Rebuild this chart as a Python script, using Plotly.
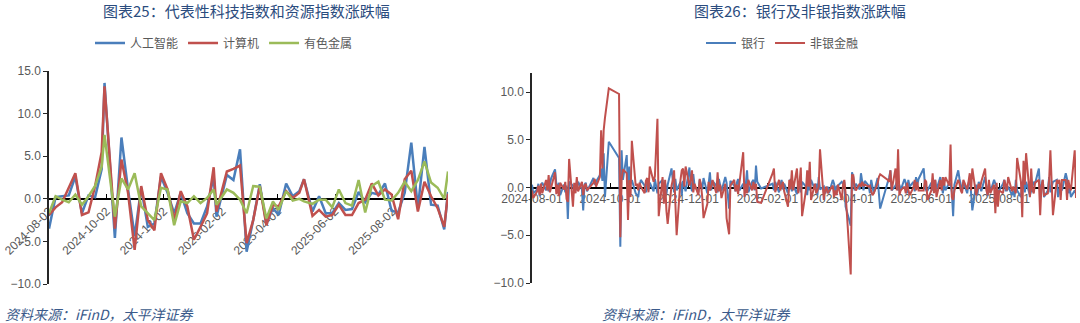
import pandas as pd
import plotly.graph_objects as go

# ---------------- Left chart: weekly change (%) ----------------
left_dates = [
    "2024-08-02", "2024-08-09", "2024-08-16", "2024-08-23", "2024-08-30",
    "2024-09-06", "2024-09-13", "2024-09-20", "2024-09-27", "2024-09-30",
    "2024-10-11", "2024-10-18", "2024-10-25", "2024-11-01", "2024-11-08",
    "2024-11-15", "2024-11-22", "2024-11-29", "2024-12-06", "2024-12-13",
    "2024-12-20", "2024-12-27", "2025-01-03", "2025-01-10", "2025-01-17",
    "2025-01-24", "2025-01-27", "2025-02-07", "2025-02-14", "2025-02-21",
    "2025-02-28", "2025-03-07", "2025-03-14", "2025-03-21", "2025-03-28",
    "2025-04-03", "2025-04-11", "2025-04-18", "2025-04-25", "2025-04-30",
    "2025-05-09", "2025-05-16", "2025-05-23", "2025-05-30", "2025-06-06",
    "2025-06-13", "2025-06-20", "2025-06-27", "2025-07-04", "2025-07-11",
    "2025-07-18", "2025-07-25", "2025-08-01", "2025-08-08", "2025-08-15",
    "2025-08-22", "2025-08-29", "2025-09-05", "2025-09-12", "2025-09-19",
    "2025-09-26", "2025-09-30",
]
ai = [-3.5, 0.2, 0.3, 0.4, 2.6, -1.7, 0.4, 0.2, 3.5, 13.6,
      -4.6, 7.2, 1.1, -4.4, 1.3, -3.3, -2.9, 2.6, 0.7, -1.7,
      0.7, -1.7, -2.9, -2.9, -0.9, 2.6, -2.1, 2.8, 2.2, 5.8,
      -6.2, -2.5, 1.7, -2.9, -1.1, -1.9, 1.8, 0.3, 0.9, 2.3,
      -1.5, 0.3, -1.7, -1.7, -0.5, -1.3, -1.2, 0.8, -0.4, 0.7,
      0.5, 1.8, -1.4, -1.6, 0.7, 6.6, -1.1, 6.1, -0.7, -0.8,
      -3.6, 0.8]
computer = [-1.9, -1.0, -0.4, 1.2, 3.0, -1.9, -1.6, 1.5, 5.5, 13.2,
            -3.5, 4.6, 0.7, -6.0, 1.5, -2.5, -3.7, 3.0, 1.1, -2.5,
            0.9, -0.9, -4.8, -3.3, -1.7, 3.7, -1.5, 3.2, 3.5, 3.9,
            -5.2, -2.5, 1.5, -3.1, -0.7, -0.9, 0.9, 0.1, 0.7, 2.3,
            -2.0, -1.3, -2.1, -1.9, -0.7, -1.9, -1.9, -0.5, -0.1, 1.8,
            0.4, 1.1, 0.5, -2.4, 2.3, 3.3, -1.5, 2.0, 0.3, -1.1,
            -3.3, 0.6]
metals = [-1.7, 0.3, -0.1, -0.4, 0.5, -0.7, 0.3, 1.5, 3.8, 7.5,
          -2.1, 2.4, 1.1, 3.0, -0.9, -1.7, -2.5, 1.3, 1.1, -3.1,
          -0.3, -0.5, 0.3, -0.5, 0.1, 1.1, -0.7, 1.1, 0.7, -0.1,
          -1.7, 1.5, 1.4, -2.3, -0.3, -1.3, 0.9, -0.2, 0.0, -0.3,
          -0.6, -0.1, -0.1, -1.0, 1.1, -0.5, -0.8, 2.2, -1.6, 1.5,
          2.0, -0.1, -0.2, 0.7, 2.0, 0.9, 2.2, 4.4, 1.9, 1.3,
          0.0, 3.2]
left_ticks = ["2024-08-02", "2024-10-02", "2024-12-02", "2025-02-02",
              "2025-04-02", "2025-06-02", "2025-08-02"]

# ---------------- Right chart: daily change (%) ----------------
# one row per month, 2024-08 ... 2025-09 (trading days)
bank = [
    [0.3, -0.6, -0.2, 0.4, -0.9, 0.2, 0.5, -0.3, 0.6, -0.4, 0.3, 1.0, 1.9, 0.4, -0.2, 0.5, -0.8, 0.3, -0.5, 0.2, -3.3, 0.6],
    [0.2, -0.5, 0.4, -0.3, 0.6, -0.2, -2.4, 0.3, 0.5, -0.4, 1.0, 0.3, 0.6, 1.3, 2.0, 0.7, 3.6, -1.0, 4.8],
    [3.1, -6.2, 3.9, 0.8, 3.4, -0.6, 2.2, 0.4, 0.8, -0.6, -0.8, -1.0, 0.1, 0.8, 0.2, -0.5, 0.4, -0.3],
    [0.5, -0.4, 0.9, 0.3, -0.6, 0.4, 0.8, -0.2, 0.5, -0.7, 0.3, 2.0, 0.4, -0.5, 0.9, -0.3, 0.6, -0.8, 0.7, 0.2, -0.4],
    [2.1, 0.3, -0.4, 1.4, 0.2, -0.5, 0.8, 0.3, -0.2, 1.0, -0.6, 0.4, 1.6, -0.3, 0.7, 0.2, -0.5, 0.9, 0.3, -0.4, 1.1, 0.5],
    [-2.2, 0.7, 0.2, -0.4, 0.5, 0.9, -0.3, 0.4, -0.2, 0.3, 1.8, -0.5, 0.6, 0.8, -0.3, 2.3, 0.6, -0.1],
    [0.4, -0.3, 0.6, -0.5, 0.3, 0.8, -0.2, 0.4, -0.6, 0.2, 0.9, -0.4, 0.3, -0.7, 0.5, 0.1, -0.5, 0.6],
    [0.1, -0.8, 0.6, -0.3, 0.8, -0.2, 0.4, -0.8, 1.1, -0.2, 0.1, -0.6, -0.3, 0.1, -0.6, 0.8, 0.4, -0.4, 0.1, 0.2, 0.6],
    [0.4, 0.6, -2.0, -4.0, 1.6, 1.1, -0.3, 0.4, -0.2, 1.5, 0.6, -0.3, 0.7, 0.2, -0.6, 0.8, 0.1, -0.6, 1.0, -0.9, -2.2],
    [0.6, 1.0, 1.8, -0.3, 0.2, 0.6, -0.3, 0.3, -0.3, 0.9, 0.5, -0.6, 0.8, 0.1, 0.6, -0.4, 1.1, 0.3, 0.9],
    [2.0, 0.3, -0.3, -0.3, 0.5, -0.3, 0.1, 0.8, -0.2, 1.1, 0.4, -0.6, 0.4, -0.3, 0.5, 0.3, -0.5, -3.0, 0.3, 1.8],
    [0.9, 0.3, -0.3, 0.6, -0.6, 0.4, 1.0, -0.5, -2.4, 0.3, -0.8, 0.6, 0.2, -0.4, 1.1, 0.3, -0.9, 0.5, -0.5, 0.8, 0.3, -0.2, -0.4],
    [-0.3, 0.4, 0.8, -0.3, -0.3, 0.1, -0.8, -0.3, -1.0, 0.8, -0.3, -1.0, 0.4, 0.8, -0.5, 0.6, -0.8, -0.3, 0.2, 0.6, 0.4],
    [2.0, -0.6, 0.1, 0.8, -1.0, -0.3, 1.1, -0.5, 0.1, 0.6, 0.8, -1.0, -0.3, 0.4, -0.3, 1.5, 0.9, -0.6, 0.1, -1.0, -0.3, -0.6],
]
nonbank = [
    [-0.3, -1.1, -0.4, 0.2, -0.8, 0.4, -0.6, 0.8, -0.3, 1.3, -0.5, 0.1, 1.6, -0.7, 0.3, -0.9, 0.5, -0.2, 0.6, -1.2, -1.5, 3.0],
    [-2.0, 0.5, -0.6, 1.1, -0.4, 0.6, -0.8, 0.2, 0.4, -0.3, 0.5, 0.9, 0.1, 1.1, 6.0, 2.0, 6.0, 7.3, 10.4],
    [9.8, -5.2, 0.8, 1.9, 1.5, -3.4, 0.8, -1.0, 4.9, 0.2, 0.4, -0.3, 0.5, 0.1, -0.6, 0.7, 1.0, -0.5],
    [2.2, 0.6, 1.2, 4.9, 7.2, -3.0, 1.1, -1.7, 0.8, -2.4, -3.8, 0.2, 0.8, 1.8, -1.3, -5.0, 0.8, 1.8, 2.0, 0.1, 2.2],
    [0.2, 0.8, 1.8, -0.5, 0.4, -0.8, 0.9, 0.3, -1.0, -3.2, -1.7, 0.6, -0.3, 0.1, 0.8, -0.6, 1.6, -0.4, 0.3, -1.1, 0.4, -3.2],
    [-4.9, 0.2, 0.8, -0.4, 0.3, -0.7, 0.5, 3.7, -1.0, 0.4, -0.6, 0.8, -0.3, 0.6, -0.2, 0.4, -1.5, -1.6],
    [1.5, 2.0, -0.5, 0.8, -0.3, 0.2, 0.6, -0.4, -2.0, 0.8, -0.2, 1.8, -0.3, 2.0, -0.6, 0.5, 2.1, -3.0],
    [-0.3, 1.8, 0.1, 2.7, -1.3, 0.4, -0.6, -0.3, 0.1, 4.0, -1.3, -0.3, 0.1, -0.6, -0.4, 0.2, -1.0, -0.3, -0.8, 0.3, -1.3],
    [0.3, 0.8, -0.6, -9.1, 1.3, 1.3, 0.1, -0.3, 0.4, 0.1, 0.6, 0.2, 0.3, 0.1, 0.2, -0.4, -0.8, -0.6, 0.4, 1.1, 1.4],
    [0.8, 0.6, 1.8, -0.3, 2.0, -0.3, 4.0, -0.8, -0.3, 0.1, -0.6, 0.5, -0.2, -0.8, 0.0, 0.8, -0.3, 0.6, -0.3],
    [-0.3, 0.8, 0.6, -1.3, -0.3, 1.5, -0.6, 0.8, -1.0, 0.8, -0.3, 1.1, 0.2, 1.1, 0.2, 4.5, -1.0, -1.3, -0.3, 0.8],
    [0.4, -0.3, -0.6, 0.8, -0.2, 0.6, 1.5, -0.3, 2.0, -0.8, -0.2, 0.4, -0.1, 0.6, 2.0, -0.3, -0.8, 0.8, -0.6, 0.3, -2.7, 0.5, -2.0],
    [-0.3, -0.6, 0.8, 0.3, -0.3, 1.1, -0.4, 0.1, -0.3, -0.6, 3.1, 0.6, -3.1, 2.8, 0.3, 3.6, -1.0, 2.0, -0.3, -0.6, 0.5],
    [0.8, -2.9, 0.1, 0.8, -0.8, -0.6, 0.8, 3.9, -0.3, -2.9, 0.8, 0.4, 0.8, -1.3, 0.8, 0.8, -1.3, 0.8, 0.1, -0.3, 3.9, -1.1],
]
right_ticks = ["2024-08-01", "2024-10-01", "2024-12-01", "2025-02-01",
               "2025-04-01", "2025-06-01", "2025-08-01"]

# market holidays (weekdays) in the period
holidays = (["2024-09-16", "2024-09-17"]
            + [str(d.date()) for d in pd.bdate_range("2024-10-01", "2024-10-07")]
            + ["2025-01-01"]
            + [str(d.date()) for d in pd.bdate_range("2025-01-28", "2025-02-04")]
            + ["2025-04-04", "2025-05-01", "2025-05-02", "2025-05-05", "2025-06-02"])
trading = [d for d in pd.bdate_range("2024-08-01", "2025-09-30") if str(d.date()) not in holidays]
bank_flat = [v for m in bank for v in m]
nonbank_flat = [v for m in nonbank for v in m]
if len(trading) != len(bank_flat) or len(trading) != len(nonbank_flat):
    raise SystemExit(f"length mismatch {len(trading)} {len(bank_flat)} {len(nonbank_flat)}")
right_dates = [d.strftime("%Y-%m-%d") for d in trading]

W, H = 1080, 323
def px(x):
    return x / W
def py(y):
    return 1 - y / H

BLUE, RED, GREEN = "#4A7EBB", "#C0504D", "#9BBB59"
GRAY = "#595959"
TICKFONT = dict(family="Liberation Sans, Arial, sans-serif", size=12, color=GRAY)
CJK = "Noto Sans CJK SC"

fig = go.Figure()
for name, vals, col in [("人工智能", ai, BLUE), ("计算机", computer, RED), ("有色金属", metals, GREEN)]:
    fig.add_trace(go.Scatter(x=left_dates, y=vals, mode="lines", name=name,
                             line=dict(color=col, width=2.5), xaxis="x", yaxis="y",
                             legend="legend"))
for name, vals, col in [("银行", bank_flat, BLUE), ("非银金融", nonbank_flat, RED)]:
    fig.add_trace(go.Scatter(x=right_dates, y=vals, mode="lines", name=name,
                             line=dict(color=col, width=2), xaxis="x2", yaxis="y2",
                             legend="legend2"))

# geometry (pixels)
L_x0, L_x1, L_top, L_bot, L_min, L_max = 49, 448, 71, 284, -10, 15
R_x0, R_x1, R_top, R_bot, R_min, R_max = 532, 1076, 73, 283, -10, 12
L_zero = L_top + (L_max - 0) / (L_max - L_min) * (L_bot - L_top)
R_zero = R_top + (R_max - 0) / (R_max - R_min) * (R_bot - R_top)

common_x = dict(type="date", showline=True, linecolor="black", linewidth=1.5,
                ticks="inside", ticklen=4, tickcolor="black", showgrid=False,
                zeroline=False, tickfont=TICKFONT, tickformat="%Y-%m-%d",
                anchor="free", layer="below traces", automargin=False)
common_y = dict(showline=True, linecolor="#262626", linewidth=1.5, ticks="outside",
                ticklen=4, tickcolor="#262626", showgrid=False, zeroline=False,
                tickformat=".1f", tickfont=TICKFONT, automargin=False)

fig.update_layout(
    template="none",
    width=W, height=H, autosize=False,
    margin=dict(l=0, r=0, t=0, b=0, pad=0),
    paper_bgcolor="white", plot_bgcolor="white",
    xaxis=dict(common_x, domain=[px(L_x0), px(L_x1)], position=py(L_zero),
               range=[left_dates[0], left_dates[-1]], tickvals=left_ticks, tickangle=-45),
    yaxis=dict(common_y, domain=[py(L_bot), py(L_top)], range=[L_min, L_max],
               tickvals=[-10, -5, 0, 5, 10, 15], anchor="x"),
    xaxis2=dict(common_x, domain=[px(R_x0), px(R_x1)], position=py(R_zero),
                range=[right_dates[0], right_dates[-1]], tickvals=right_ticks, tickangle=0),
    yaxis2=dict(common_y, domain=[py(R_bot), py(R_top)], range=[R_min, R_max],
                tickvals=[-10, -5, 0, 5, 10], anchor="x2"),
    legend=dict(orientation="h", x=px(90), y=py(43), xanchor="left", yanchor="middle",
                font=dict(family=CJK, size=12, color=GRAY), bgcolor="rgba(0,0,0,0)"),
    legend2=dict(orientation="h", x=px(701), y=py(43), xanchor="left", yanchor="middle",
                 font=dict(family=CJK, size=12, color=GRAY), bgcolor="rgba(0,0,0,0)"),
    showlegend=True,
)

TITLE_COLOR = "#2B4C7E"
SRC_COLOR = "#3A5A8A"
annos = [
    dict(text="图表25：代表性科技指数和资源指数涨跌幅", x=px(246), y=py(11)),
    dict(text="图表26：银行及非银指数涨跌幅", x=px(800), y=py(11)),
]
for a in annos:
    fig.add_annotation(text=a["text"], x=a["x"], y=a["y"], xref="paper", yref="paper",
                       xanchor="center", yanchor="middle", showarrow=False,
                       font=dict(family=CJK, size=15, color=TITLE_COLOR))
for xpos in (3, 600):
    fig.add_annotation(text="资料来源：iFinD，太平洋证券", x=px(xpos), y=py(314),
                       xref="paper", yref="paper", xanchor="left", yanchor="middle",
                       showarrow=False,
                       font=dict(family=CJK, size=14, color=SRC_COLOR, style="italic"))

fig.write_html("out.html")
